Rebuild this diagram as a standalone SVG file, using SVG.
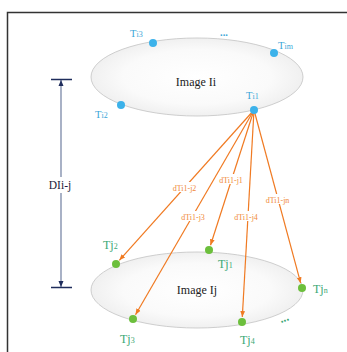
<svg xmlns="http://www.w3.org/2000/svg" width="347" height="352" viewBox="0 0 347 352">
<style>
.ell{fill:url(#eg);stroke:#c8c8c8;stroke-width:0.9}
.bd{fill:#3cb2ea}
.gd{fill:#6cbf3c}
.bt{font-family:"Liberation Serif",serif;font-size:10.5px;fill:#3aa6d8}
.gt{font-family:"Liberation Serif",serif;font-size:12px;fill:#3aa874}
.sub{font-size:8px}
.im{font-family:"Liberation Serif",serif;font-size:12px;fill:#222}
.ol{stroke:#f07a22;stroke-width:1.2;fill:none;marker-end:url(#oa)}
.ot{font-family:"Liberation Serif",serif;font-size:8px;fill:#f08a3a;text-anchor:middle}
.wb{fill:#fff}
</style>
<defs>
<radialGradient id="eg" cx="0.5" cy="0.5" r="0.5">
<stop offset="0" stop-color="#ffffff"/>
<stop offset="0.7" stop-color="#fafafa"/>
<stop offset="1" stop-color="#f0f0f0"/>
</radialGradient>
<marker id="oa" viewBox="0 0 10 10" refX="10" refY="5" markerWidth="6" markerHeight="6" orient="auto" markerUnits="userSpaceOnUse">
<path d="M0,1 L10,5 L0,9 Z" fill="#f07a22"/>
</marker>
</defs>
<rect x="0" y="0" width="347" height="352" fill="#fff"/>
<rect x="7.5" y="12.5" width="400" height="400" fill="none" stroke="#333" stroke-width="1.5"/>

<g id="image-i">
<ellipse class="ell" cx="197" cy="77" rx="106" ry="39"/>
<text class="im" x="196" y="86" text-anchor="middle">Image Ii</text>
</g>
<g id="image-j">
<ellipse class="ell" cx="197" cy="290" rx="106" ry="38"/>
<text class="im" x="197" y="294" text-anchor="middle">Image Ij</text>
</g>

<g id="dimension">
<line x1="61" y1="80" x2="61" y2="287" stroke="#7a88a8" stroke-width="1.3"/>
<path d="M61,80 L58.5,86 L63.5,86 Z" fill="#1f2d5c"/>
<path d="M61,287 L58.5,281 L63.5,281 Z" fill="#1f2d5c"/>
<line x1="51" y1="79.5" x2="72" y2="79.5" stroke="#1f2d5c" stroke-width="1.5"/>
<line x1="51" y1="287.5" x2="72" y2="287.5" stroke="#1f2d5c" stroke-width="1.5"/>
<rect class="wb" x="45" y="177" width="30" height="16"/>
<text x="60" y="189" text-anchor="middle" font-family="Liberation Serif, serif" font-size="11.5" fill="#1a1a3a">DIi-j</text>
</g>

<g id="connectors">
<line class="ol" x1="254" y1="110" x2="119.3" y2="260.3"/>
<line class="ol" x1="254" y1="110" x2="210.5" y2="245.2"/>
<line class="ol" x1="254" y1="110" x2="135.5" y2="314.7"/>
<line class="ol" x1="254" y1="110" x2="242.3" y2="317"/>
<line class="ol" x1="254" y1="110" x2="300.7" y2="283.2"/>
<rect class="wb" x="171" y="182" width="27" height="10"/>
<text class="ot" x="184.5" y="190.5">dTi1-j2</text>
<rect class="wb" x="218" y="174" width="26" height="10"/>
<text class="ot" x="231" y="182.5">dTi1-j1</text>
<rect class="wb" x="180" y="211" width="26" height="10"/>
<text class="ot" x="193" y="219.5">dTi1-j3</text>
<rect class="wb" x="233" y="211" width="26" height="10"/>
<text class="ot" x="246" y="219.5">dTi1-j4</text>
<rect class="wb" x="264" y="194" width="27" height="10"/>
<text class="ot" x="277.5" y="202.5">dTi1-jn</text>
</g>

<g id="Ti3"><circle class="bd" cx="153" cy="43" r="4"/><text class="bt" x="130" y="37">T<tspan class="sub">i3</tspan></text></g>
<g id="Tim"><circle class="bd" cx="274" cy="53" r="4"/><text class="bt" x="278" y="49">T<tspan class="sub">im</tspan></text></g>
<g id="dots-i"><text class="bt" x="220" y="36" font-weight="bold">...</text></g>
<g id="Ti2"><circle class="bd" cx="121" cy="105" r="4"/><text class="bt" x="95" y="118">T<tspan class="sub">i2</tspan></text></g>
<g id="Ti1"><circle class="bd" cx="254" cy="110" r="4"/><text class="bt" x="246" y="99">T<tspan class="sub">i1</tspan></text></g>

<g id="Tj2"><circle class="gd" cx="116" cy="264" r="4"/><text class="gt" x="103" y="249">Tj<tspan class="sub">2</tspan></text></g>
<g id="Tj1"><circle class="gd" cx="209" cy="250" r="4"/><text class="gt" x="218" y="268">Tj<tspan class="sub">1</tspan></text></g>
<g id="Tjn"><circle class="gd" cx="302" cy="288" r="4"/><text class="gt" x="313" y="293">Tj<tspan class="sub">n</tspan></text></g>
<g id="Tj3"><circle class="gd" cx="133" cy="319" r="4"/><text class="gt" x="120" y="343">Tj<tspan class="sub">3</tspan></text></g>
<g id="Tj4"><circle class="gd" cx="242" cy="322" r="4"/><text class="gt" x="240" y="344">Tj<tspan class="sub">4</tspan></text></g>
<g id="dots-j"><text class="gt" x="280" y="321" font-weight="bold" transform="rotate(-20 286 319)">...</text></g>
</svg>
